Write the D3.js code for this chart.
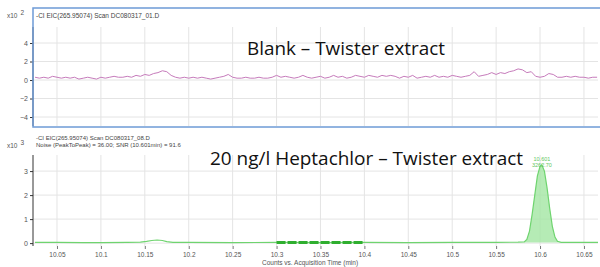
<!DOCTYPE html>
<html>
<head>
<meta charset="utf-8">
<script src="https://cdn.jsdelivr.net/npm/d3@7"></script>
<style>
  body { margin: 0; background: #fff; }
  svg { display: block; font-family: "Liberation Sans", Arial, sans-serif; }
</style>
</head>
<body>
<svg id="chart" width="600" height="267"></svg>
<script>
// data: blank trace (x10^2 counts) vs acquisition time (min)
var blankTrace = [
  [10.025,0.3],[10.030,0.2],[10.035,0.3],[10.040,0.2],[10.045,0.4],[10.050,0.3],[10.055,0.2],
  [10.060,0.3],[10.065,0.2],[10.070,0.3],[10.075,0.1],[10.080,0.2],[10.085,0.3],[10.090,0.2],
  [10.095,0.1],[10.100,0.3],[10.105,0.2],[10.110,0.3],[10.115,0.4],[10.120,0.3],[10.125,0.3],
  [10.130,0.4],[10.135,0.3],[10.140,0.5],[10.145,0.4],[10.150,0.6],[10.155,0.5],[10.160,0.7],
  [10.165,0.8],[10.170,1.0],[10.175,0.9],[10.180,0.5],[10.185,0.3],[10.190,0.2],[10.195,0.3],
  [10.200,0.2],[10.205,0.3],[10.210,0.2],[10.215,0.3],[10.220,0.2],[10.225,0.1],[10.230,0.2],
  [10.235,0.3],[10.240,0.4],[10.245,0.6],[10.250,0.3],[10.255,0.2],[10.260,0.2],[10.265,0.3],
  [10.270,0.2],[10.275,0.2],[10.280,0.3],[10.285,0.2],[10.290,0.2],[10.295,0.3],[10.300,0.5],
  [10.305,0.3],[10.310,0.4],[10.315,0.3],[10.320,0.2],[10.325,0.3],[10.330,0.5],[10.335,0.3],
  [10.340,0.2],[10.345,0.3],[10.350,0.4],[10.355,0.2],[10.360,0.3],[10.365,0.5],[10.370,0.3],
  [10.375,0.4],[10.380,0.2],[10.385,0.3],[10.390,0.5],[10.395,0.4],[10.400,0.3],[10.405,0.5],
  [10.410,0.4],[10.415,0.3],[10.420,0.5],[10.425,0.4],[10.430,0.5],[10.435,0.4],[10.440,0.2],
  [10.445,0.4],[10.450,0.3],[10.455,0.5],[10.460,0.2],[10.465,0.3],[10.470,0.4],[10.475,0.3],
  [10.480,0.5],[10.485,0.3],[10.490,0.4],[10.495,0.3],[10.500,0.5],[10.505,0.4],[10.510,0.3],
  [10.515,0.4],[10.520,0.5],[10.525,0.9],[10.530,0.4],[10.535,0.5],[10.540,0.6],[10.545,0.8],
  [10.550,0.6],[10.555,0.8],[10.560,0.7],[10.565,0.9],[10.570,1.0],[10.575,1.2],[10.580,1.1],
  [10.585,0.8],[10.590,0.9],[10.595,0.4],[10.600,0.3],[10.605,0.4],[10.610,0.7],[10.615,0.6],
  [10.620,0.3],[10.625,0.3],[10.630,0.4],[10.635,0.3],[10.640,0.4],[10.645,0.3],[10.650,0.3],
  [10.655,0.2],[10.660,0.3],[10.665,0.3]
];

// sample trace (x10^3 counts)
var sampleTrace = [
  [10.025,0.03],[10.05,0.03],[10.08,0.02],[10.1,0.02],[10.13,0.03],[10.145,0.04],[10.152,0.07],
  [10.158,0.11],[10.164,0.13],[10.17,0.11],[10.175,0.06],[10.182,0.03],[10.2,0.03],[10.25,0.02],
  [10.3,0.03],[10.35,0.02],[10.4,0.03],[10.45,0.02],[10.5,0.03],[10.55,0.03],[10.575,0.04],
  [10.582,0.05],[10.585,0.15],[10.588,0.5],[10.591,1.2],[10.594,2.0],[10.597,2.8],[10.600,3.2],
  [10.602,3.26],[10.605,3.0],[10.608,2.3],[10.611,1.45],[10.614,0.7],[10.617,0.25],[10.620,0.07],
  [10.624,0.03],[10.64,0.03],[10.666,0.03]
];

var peakRange = [10.582, 10.621];
var noiseRange = [10.3, 10.4];
var peakLabel = ["10.601", "3262.70"];

var xTicks = [10.05, 10.1, 10.15, 10.2, 10.25, 10.3, 10.35, 10.4, 10.45, 10.5, 10.55, 10.6, 10.65];
var topYTicks = [4, 2, 0, -2, -4];
var bottomYTicks = [3, 2, 1, 0];

var svg = d3.select("#chart");

var x = d3.scaleLinear().domain([10.0227, 10.666]).range([33, 598]);
var yTop = d3.scaleLinear().domain([-4.97, 5.73]).range([126, 27]);
var yBot = d3.scaleLinear().domain([-0.12, 3.67]).range([246, 155]);

var gridColor = "#e4e4e4";
var labelColor = "#555";

// ---- top panel (Blank) ----
var topG = svg.append("g");

topG.append("g").selectAll("line").data(xTicks).enter().append("line")
  .attr("x1", d => x(d)).attr("x2", d => x(d))
  .attr("y1", 27).attr("y2", 126)
  .attr("stroke", gridColor);

topG.append("g").selectAll("line").data(topYTicks).enter().append("line")
  .attr("x1", 33).attr("x2", 598)
  .attr("y1", d => yTop(d)).attr("y2", d => yTop(d))
  .attr("stroke", gridColor);

topG.append("path")
  .datum(blankTrace)
  .attr("fill", "none")
  .attr("stroke", "#c67bbb")
  .attr("stroke-width", 1)
  .attr("d", d3.line().x(d => x(d[0])).y(d => yTop(d[1])));

var topAxis = topG.append("g")
  .attr("transform", "translate(33,0)")
  .call(d3.axisLeft(yTop).tickValues(topYTicks).tickSize(3).tickFormat(d3.format("d")));
topAxis.select(".domain").attr("stroke", "#333").attr("d", "M0,27V126");
topAxis.selectAll(".tick line").attr("stroke", "#333");
topAxis.selectAll("text").attr("fill", labelColor).style("font-size", "7px").attr("x", -5);

// selection frame
topG.append("rect")
  .attr("x", 33).attr("y", 8).attr("width", 580).attr("height", 119)
  .attr("fill", "none").attr("stroke", "#6e9bd6").attr("stroke-width", 1.5);

topG.append("text").attr("x", 7).attr("y", 18)
  .attr("fill", labelColor).style("font-size", "6.5px")
  .text("x10").append("tspan").attr("dy", -3).attr("dx", 3).text("2");

topG.append("text").attr("x", 36).attr("y", 18)
  .attr("fill", "#444").style("font-size", "6.5px")
  .text("-CI EIC(265.95074) Scan DC080317_01.D");

topG.append("text").attr("x", 247).attr("y", 55)
  .attr("fill", "#111")
  .style("font-family", "'Open Sans', 'Noto Sans', sans-serif")
  .style("font-size", "19px")
  .attr("textLength", 198).attr("lengthAdjust", "spacingAndGlyphs")
  .text("Blank \u2013 Twister extract");

// ---- bottom panel (20 ng/l) ----
var botG = svg.append("g");

botG.append("g").selectAll("line").data(xTicks).enter().append("line")
  .attr("x1", d => x(d)).attr("x2", d => x(d))
  .attr("y1", 155).attr("y2", 246)
  .attr("stroke", gridColor);

botG.append("g").selectAll("line").data(bottomYTicks).enter().append("line")
  .attr("x1", 33).attr("x2", 598)
  .attr("y1", d => yBot(d)).attr("y2", d => yBot(d))
  .attr("stroke", gridColor);

var inPeak = sampleTrace.filter(d => d[0] >= peakRange[0] && d[0] <= peakRange[1]);
botG.append("path")
  .datum(inPeak)
  .attr("fill", "#a3e6a3")
  .attr("fill-opacity", 0.8)
  .attr("d", d3.area().x(d => x(d[0])).y0(yBot(0.03)).y1(d => yBot(d[1])));

botG.append("path")
  .datum(sampleTrace)
  .attr("fill", "none")
  .attr("stroke", "#6fd46f")
  .attr("stroke-width", 1.2)
  .attr("d", d3.line().x(d => x(d[0])).y(d => yBot(d[1])));

// noise region marker
botG.append("line")
  .attr("x1", x(noiseRange[0])).attr("x2", x(noiseRange[1]))
  .attr("y1", yBot(0.03)).attr("y2", yBot(0.03))
  .attr("stroke", "#2fae2f").attr("stroke-width", 3)
  .attr("stroke-dasharray", "9,2");

botG.append("g").selectAll("text").data(peakLabel).enter().append("text")
  .attr("x", x(10.601) + 1).attr("y", (d, i) => 161 + i * 6)
  .attr("text-anchor", "middle")
  .attr("fill", "#62c862").style("font-size", "5.5px")
  .text(d => d);

var botAxis = botG.append("g")
  .attr("transform", "translate(33,0)")
  .call(d3.axisLeft(yBot).tickValues(bottomYTicks).tickSize(3).tickFormat(d3.format("d")));
botAxis.select(".domain").attr("stroke", "#333").attr("d", "M0,155V246");
botAxis.selectAll(".tick line").attr("stroke", "#333");
botAxis.selectAll("text").attr("fill", labelColor).style("font-size", "7px").attr("x", -5);

var xAxis = botG.append("g")
  .attr("transform", "translate(0,246)")
  .call(d3.axisBottom(x).tickValues(xTicks).tickSize(3).tickFormat(d => String(d)));
xAxis.select(".domain").remove();
xAxis.selectAll(".tick line").attr("stroke", "#777");
xAxis.selectAll("text").attr("fill", labelColor).style("font-size", "6.5px").attr("y", 6);

botG.append("text").attr("x", 7).attr("y", 148)
  .attr("fill", labelColor).style("font-size", "6.5px")
  .text("x10").append("tspan").attr("dy", -3).attr("dx", 3).text("3");

botG.append("text").attr("x", 36).attr("y", 140)
  .attr("fill", "#444").style("font-size", "6px")
  .text("-CI EIC(265.95074) Scan DC080317_08.D");
botG.append("text").attr("x", 36).attr("y", 147)
  .attr("fill", "#444").style("font-size", "6px")
  .text("Noise (PeakToPeak) = 36.00; SNR (10.601min) = 91.6");

botG.append("text").attr("x", 210).attr("y", 165)
  .attr("fill", "#111")
  .style("font-family", "'Open Sans', 'Noto Sans', sans-serif")
  .style("font-size", "19px")
  .attr("textLength", 313).attr("lengthAdjust", "spacingAndGlyphs")
  .text("20 ng/l Heptachlor \u2013 Twister extract");

botG.append("text").attr("x", 310).attr("y", 265)
  .attr("text-anchor", "middle")
  .attr("fill", labelColor).style("font-size", "6.5px")
  .text("Counts vs. Acquisition Time (min)");
</script>
</body>
</html>
